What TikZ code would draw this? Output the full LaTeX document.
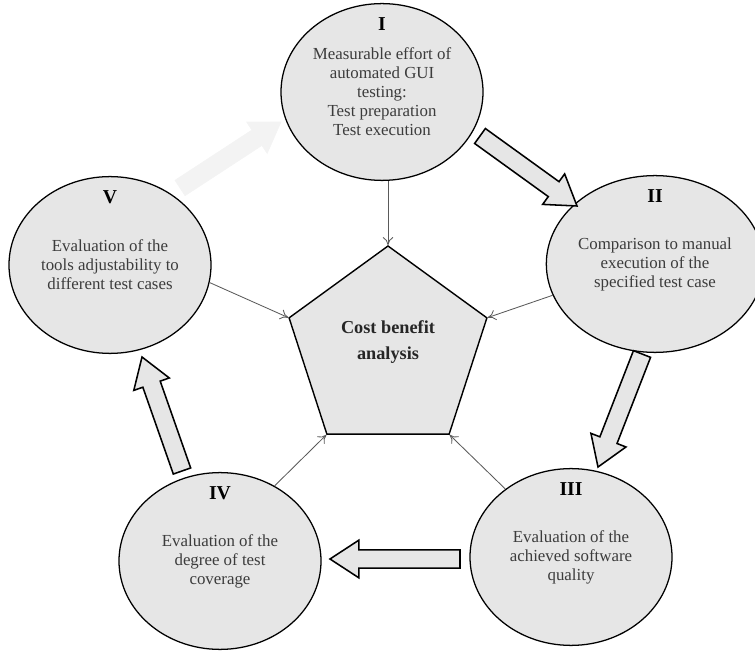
\documentclass[tikz,border=0pt]{standalone}
\usepackage{fontspec}
\setmainfont{Liberation Serif}
\usepackage{xcolor}
\usetikzlibrary{shapes.geometric, arrows.meta, positioning, calc}
\definecolor{bubblebg}{HTML}{E6E6E6}
\definecolor{inktext}{HTML}{3C3C3C}
\definecolor{feedline}{HTML}{5A5A5A}
\definecolor{ghost}{HTML}{F3F3F3}
\tikzset{
    bubble/.style={ellipse, draw=black, line width=0.9pt, fill=bubblebg, minimum width=5.05cm, minimum height=4.42cm, inner sep=0pt, align=center, text=inktext, font=\fontsize{12}{13.5}\selectfont},
    numeral/.style={inner sep=0pt, font=\fontsize{14}{16}\selectfont\bfseries},
    hub/.style={regular polygon, regular polygon sides=5, draw=black, line width=1pt, fill=bubblebg, minimum size=5.2cm, inner sep=0pt},
    hubtext/.style={align=center, font=\fontsize{13}{18}\selectfont\bfseries, text=black!85},
    feed/.style={-{To[length=2mm,width=2.6mm]}, color=feedline, line width=0.6pt},
    bigarrow/.style={draw=black, line width=1.1pt, fill=bubblebg, line join=miter},
    fadedarrow/.style={draw=ghost, fill=ghost}
}
% broad outlined arrow from tail #2 to tip #3
\newcommand{\fatarrow}[3][bigarrow]{%
    \coordinate (fa-head) at ($(#3)!0.72cm!(#2)$);
    \draw [#1] ($(#2)!0.23cm!90:(#3)$) -- ($(fa-head)!0.23cm!-90:(#2)$)
        -- ($(fa-head)!0.47cm!-90:(#2)$) -- (#3)
        -- ($(fa-head)!0.47cm!90:(#2)$) -- ($(fa-head)!0.23cm!90:(#2)$)
        -- ($(#2)!0.23cm!-90:(#3)$) -- cycle;
}

\begin{document}
\begin{tikzpicture}
    \useasboundingbox (0,0) rectangle (18.875,16.275);

    % cycle arrows between the stages
    \coordinate (flow5-tail) at (4.50,11.575);
    \coordinate (flow5-tip) at (7.025,13.225);
    \fatarrow[fadedarrow]{flow5-tail}{flow5-tip}

    % central pentagon
    \node [hub] (cba) at (9.70,7.525) {};
    \node [hubtext] (cba-text) at ($(cba.center)+(0,0.2)$) {Cost benefit\\analysis};

    % the five stages
    \node [bubble] (I) at (9.55,13.975) {Measurable effort of\\automated GUI\\testing:\\Test preparation\\Test execution};
    \node [bubble] (II) at (16.375,9.675) {Comparison to manual\\execution of the\\specified test case};
    \node [bubble] (III) at (14.275,2.35) {Evaluation of the\\achieved software\\quality};
    \node [bubble] (IV) at (5.50,2.25) {Evaluation of the\\degree of test\\coverage};
    \node [bubble] (V) at (2.75,9.65) {Evaluation of the\\tools adjustability to\\different test cases};

    \node [numeral, below=0.37cm of I.north] (I-num) {I};
    \node [numeral, below=0.37cm of II.north] (II-num) {II};
    \node [numeral, below=0.37cm of III.north] (III-num) {III};
    \node [numeral, below=0.37cm of IV.north] (IV-num) {IV};
    \node [numeral, below=0.37cm of V.north] (V-num) {V};

    % every stage feeds the analysis
    \draw [feed] (I.south -| cba.corner 1) -- (cba.corner 1);
    \draw [feed] (II.197) -- (cba.corner 5);
    \draw [feed] (III.134) -- (cba.corner 4);
    \draw [feed] (IV.54) -- (cba.corner 3);
    \draw [feed] (V.-10) -- (cba.corner 2);

    \coordinate (flow1-tail) at (12.00,12.875);
    \coordinate (flow1-tip) at (14.425,11.125);
    \coordinate (flow2-tail) at (16.05,7.425);
    \coordinate (flow2-tip) at (14.95,4.60);
    \coordinate (flow3-tail) at (11.50,2.30);
    \coordinate (flow3-tip) at (8.25,2.30);
    \coordinate (flow4-tail) at (4.55,4.50);
    \coordinate (flow4-tip) at (3.55,7.35);
    \fatarrow{flow1-tail}{flow1-tip}
    \fatarrow{flow2-tail}{flow2-tip}
    \fatarrow{flow3-tail}{flow3-tip}
    \fatarrow{flow4-tail}{flow4-tip}
\end{tikzpicture}
\end{document}
